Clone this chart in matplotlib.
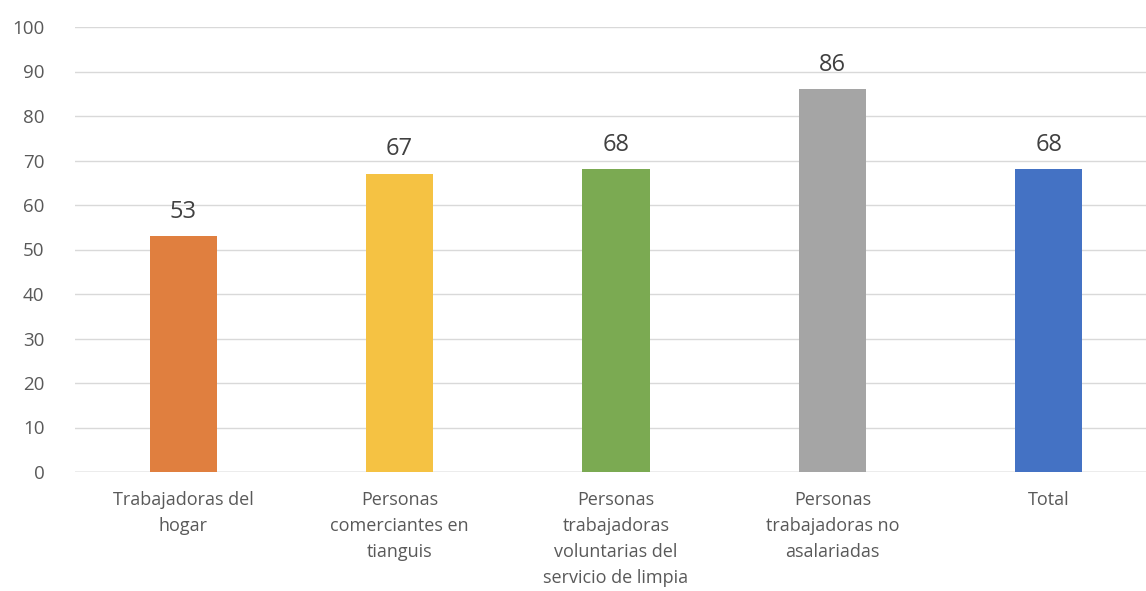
import matplotlib.pyplot as plt

categories = [
    "Trabajadoras del\nhogar",
    "Personas\ncomerciantes en\ntianguis",
    "Personas\ntrabajadoras\nvoluntarias del\nservicio de limpia",
    "Personas\ntrabajadoras no\nasalariadas",
    "Total",
]
values = [53, 67, 68, 86, 68]
colors = ["#E07F3F", "#F5C243", "#7BAA52", "#A5A5A5", "#4472C4"]

plt.rcParams["font.family"] = ["Open Sans", "DejaVu Sans"]

fig = plt.figure(figsize=(11.46, 5.91), dpi=100)
ax = fig.add_axes([75 / 1146, 119 / 591, 1082 / 1146, 445 / 591])

x = range(len(categories))
ax.bar(x, values, width=0.31, color=colors, zorder=3)
for i, v in zip(x, values):
    ax.text(i, v + 2.8, str(v), ha="center", va="bottom", fontsize=17, color="#404040")

ax.set_xlim(-0.5, len(categories) - 0.5)
ax.set_ylim(0, 100)
ax.set_yticks(range(0, 101, 10))
ax.set_xticks(list(x))
ax.set_xticklabels(categories, fontsize=13, color="#595959", linespacing=1.55)
ax.tick_params(axis="y", labelsize=13.5, labelcolor="#595959", length=0, pad=22)
ax.tick_params(axis="x", length=0, pad=14)
ax.grid(axis="y", color="#D9D9D9", linewidth=1, zorder=0)
for s in ax.spines.values():
    s.set_visible(False)
ax.axhline(0, color="#BFBFBF", linewidth=1, zorder=2)

fig.savefig("out.png", dpi=100)
